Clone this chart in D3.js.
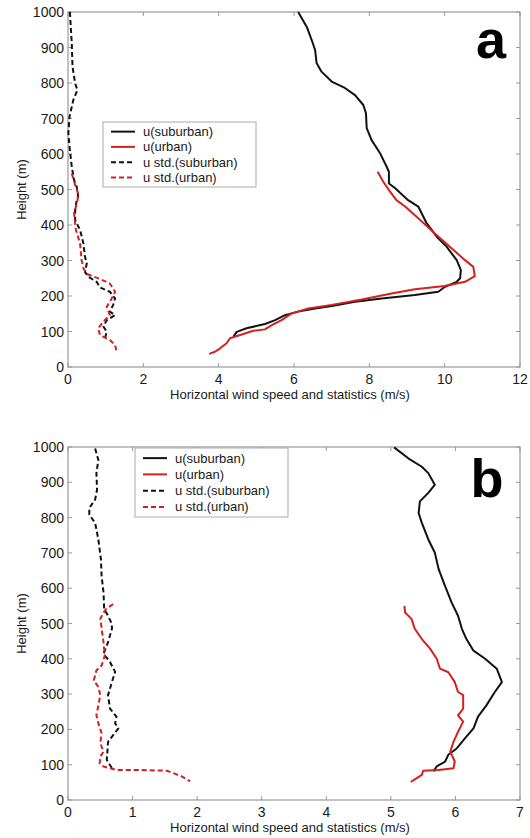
<!DOCTYPE html>
<html lang="en">

<head>
  <meta charset="UTF-8">
  <script src="https://d3js.org/d3.v7.min.js"></script>
  <style>
    body { margin: 0; background: #fff; }
    text { font-family: Arial, "Liberation Sans", sans-serif; fill: #1a1a1a; }
  </style>
</head>

<body>
  <svg id="chart" width="530" height="838"></svg>

  <script>
    // series as [speed (m/s), height (m)]
    // panel a
    const aSub = [[6.11,1000],[6.34,958],[6.47,921],[6.56,893],[6.6,856],[6.73,832],[7.0,804],[7.35,786],[7.62,766],[7.84,738],[7.91,715],[7.93,673],[8.06,639],[8.28,603],[8.46,564],[8.52,550],[8.52,517],[8.68,504],[9.03,470],[9.3,452],[9.52,405],[9.79,367],[10.05,339],[10.32,301],[10.43,273],[10.41,250],[10.32,240],[10.01,226],[9.83,212],[9.21,203],[8.33,193],[7.62,184],[7.0,172],[6.56,165],[6.11,156],[5.76,146],[5.5,132],[5.23,121],[4.74,109],[4.48,99],[4.39,85]];
    const aUrb = [[8.22,550],[8.37,522],[8.55,494],[8.72,470],[8.95,452],[9.3,419],[9.74,376],[10.19,334],[10.54,301],[10.76,282],[10.8,256],[10.54,240],[10.0,228],[9.21,219],[8.59,207],[7.8,190],[7.0,175],[6.38,165],[5.94,151],[5.67,132],[5.41,118],[5.23,106],[4.92,102],[4.57,90],[4.3,81],[4.21,67],[4.03,52],[3.9,43],[3.75,37]];
    const aSubStd = [[0.05,1000],[0.1,912],[0.12,846],[0.19,799],[0.25,780],[0.14,752],[0.04,705],[0.01,658],[0.05,611],[0.1,564],[0.16,527],[0.23,508],[0.27,480],[0.23,470],[0.19,442],[0.19,414],[0.32,386],[0.41,348],[0.45,311],[0.5,292],[0.45,268],[0.54,254],[0.76,240],[0.85,224],[1.11,212],[1.25,193],[1.2,175],[1.11,156],[1.25,146],[1.03,132],[0.94,114],[1.03,99],[0.98,81]];
    const aUrbStd = [[0.1,545],[0.19,513],[0.27,489],[0.25,466],[0.16,433],[0.21,386],[0.32,348],[0.36,301],[0.41,278],[0.5,262],[0.85,248],[1.11,235],[1.25,212],[1.16,193],[1.03,170],[1.11,146],[0.94,128],[0.8,109],[0.85,90],[1.11,76],[1.25,62],[1.29,43]];

    // panel b
    const bSub = [[5.05,999],[5.27,968],[5.48,944],[5.58,926],[5.68,893],[5.58,870],[5.45,846],[5.43,813],[5.48,785],[5.58,738],[5.68,701],[5.74,654],[5.84,606],[5.94,560],[6.04,522],[6.1,485],[6.17,456],[6.28,423],[6.46,400],[6.64,372],[6.72,334],[6.61,306],[6.48,268],[6.35,236],[6.28,203],[6.15,175],[6.02,146],[5.89,128],[5.84,109],[5.71,95],[5.66,81]];
    const bUrb = [[5.21,550],[5.22,531],[5.32,513],[5.37,485],[5.48,456],[5.61,428],[5.71,400],[5.76,372],[5.89,362],[5.99,334],[6.04,306],[6.12,297],[6.12,259],[6.04,240],[6.12,222],[6.04,193],[5.97,165],[5.92,137],[5.99,109],[5.97,90],[5.74,85],[5.5,83],[5.48,71],[5.4,62],[5.31,51]];
    const bSubStd = [[0.42,996],[0.47,963],[0.44,926],[0.45,879],[0.42,851],[0.33,827],[0.33,808],[0.42,785],[0.47,738],[0.51,682],[0.52,635],[0.55,588],[0.56,541],[0.62,522],[0.68,499],[0.68,485],[0.62,447],[0.55,414],[0.65,391],[0.73,363],[0.68,334],[0.62,297],[0.65,259],[0.75,236],[0.73,217],[0.78,203],[0.7,184],[0.62,165],[0.61,137],[0.6,114],[0.65,99],[0.7,85]];
    const bUrbStd = [[0.7,555],[0.59,541],[0.55,531],[0.5,513],[0.52,489],[0.52,485],[0.55,447],[0.57,409],[0.52,381],[0.44,367],[0.4,339],[0.47,320],[0.5,297],[0.47,268],[0.44,240],[0.47,217],[0.52,189],[0.5,161],[0.55,137],[0.5,123],[0.49,104],[0.55,95],[0.75,85],[1.11,85],[1.53,83],[1.63,76],[1.76,67],[1.89,53]];

    const legendLabels = ["u(suburban)", "u(urban)", "u std.(suburban)", "u std.(urban)"];
    const seriesColors = ["#111", "#d42020", "#111", "#d42020"];
    const seriesDash = [null, null, "5,3", "5,3"];
    const yTicks = d3.range(0, 1001, 100);

    const svg = d3.select("#chart");

    const panels = [
      { tag: "a", top: 12, bottom: 367, xMax: 12, xTicks: [0, 2, 4, 6, 8, 10, 12],
        series: [aSub, aUrb, aSubStd, aUrbStd],
        legend: { x: 103, y: 122, w: 153, h: 65 }, tagX: 491, tagY: 58 },
      { tag: "b", top: 447, bottom: 800, xMax: 7, xTicks: [0, 1, 2, 3, 4, 5, 6, 7],
        series: [bSub, bUrb, bSubStd, bUrbStd],
        legend: { x: 135, y: 448, w: 153, h: 69 }, tagX: 487, tagY: 497 }
    ];

    const left = 68, right = 520;

    panels.forEach(p => {
      const x = d3.scaleLinear().domain([0, p.xMax]).range([left, right]);
      const y = d3.scaleLinear().domain([0, 1000]).range([p.bottom, p.top]);
      const g = svg.append("g");

      // frame
      g.append("rect")
        .attr("x", left).attr("y", p.top)
        .attr("width", right - left).attr("height", p.bottom - p.top)
        .attr("fill", "none").attr("stroke", "#999").attr("stroke-width", 1.2);

      // inward ticks on all four sides
      const tl = 4;
      g.selectAll("line.xt").data(p.xTicks).join("line")
        .attr("x1", d => x(d)).attr("x2", d => x(d))
        .attr("y1", p.bottom).attr("y2", p.bottom - tl)
        .attr("stroke", "#999");
      g.selectAll("line.xt2").data(p.xTicks).join("line")
        .attr("x1", d => x(d)).attr("x2", d => x(d))
        .attr("y1", p.top).attr("y2", p.top + tl)
        .attr("stroke", "#999");
      g.selectAll("line.yt").data(yTicks).join("line")
        .attr("x1", left).attr("x2", left + tl)
        .attr("y1", d => y(d)).attr("y2", d => y(d))
        .attr("stroke", "#999");
      g.selectAll("line.yt2").data(yTicks).join("line")
        .attr("x1", right).attr("x2", right - tl)
        .attr("y1", d => y(d)).attr("y2", d => y(d))
        .attr("stroke", "#999");

      // tick labels
      g.selectAll("text.xl").data(p.xTicks).join("text")
        .attr("x", d => x(d)).attr("y", p.bottom + 17)
        .attr("text-anchor", "middle").attr("font-size", 14)
        .text(d => d);
      g.selectAll("text.yl").data(yTicks).join("text")
        .attr("x", left - 4).attr("y", d => y(d) + 5)
        .attr("text-anchor", "end").attr("font-size", 14)
        .text(d => d);

      // axis titles
      g.append("text")
        .attr("x", (left + right) / 2 - 4).attr("y", p.bottom + 32)
        .attr("text-anchor", "middle").attr("font-size", 13)
        .text("Horizontal wind speed and statistics (m/s)");
      g.append("text")
        .attr("transform", `translate(26, ${(p.top + p.bottom) / 2}) rotate(-90)`)
        .attr("text-anchor", "middle").attr("font-size", 13)
        .text("Height (m)");

      // lines
      const line = d3.line().x(d => x(d[0])).y(d => y(d[1]));
      p.series.forEach((s, i) => {
        g.append("path")
          .datum(s)
          .attr("d", line)
          .attr("fill", "none")
          .attr("stroke", seriesColors[i])
          .attr("stroke-width", 2)
          .attr("stroke-linejoin", "round")
          .attr("stroke-dasharray", seriesDash[i]);
      });

      // legend
      const L = p.legend;
      const lg = g.append("g");
      lg.append("rect")
        .attr("x", L.x).attr("y", L.y).attr("width", L.w).attr("height", L.h)
        .attr("fill", "#fff").attr("stroke", "#aaa");
      const rowH = (L.h - 4) / 4;
      legendLabels.forEach((lab, i) => {
        const cy = L.y + 2 + rowH * i + rowH / 2;
        lg.append("line")
          .attr("x1", L.x + 8).attr("x2", L.x + 32)
          .attr("y1", cy).attr("y2", cy)
          .attr("stroke", seriesColors[i]).attr("stroke-width", 2)
          .attr("stroke-dasharray", seriesDash[i]);
        lg.append("text")
          .attr("x", L.x + 40).attr("y", cy + 4.5)
          .attr("font-size", 13)
          .text(lab);
      });

      // panel tag
      g.append("text")
        .attr("x", p.tagX).attr("y", p.tagY)
        .attr("text-anchor", "middle")
        .attr("font-size", 54).attr("font-weight", "bold")
        .style("fill", "#000")
        .text(p.tag);
    });
  </script>
</body>

</html>
